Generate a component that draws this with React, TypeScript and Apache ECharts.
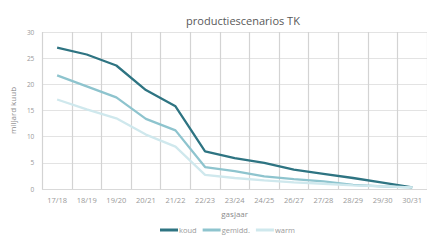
import React, { useEffect, useRef } from "react";
import * as echarts from "echarts";

const categories = ["17/18", "18/19", "19/20", "20/21", "21/22", "22/23", "23/24", "24/25", "26/27", "27/28", "28/29", "29/30", "30/31"];
const koud = [27.0, 25.7, 23.6, 18.9, 15.8, 7.2, 5.9, 5.0, 3.7, 2.9, 2.1, 1.2, 0.3];
const gemidd = [21.7, 19.6, 17.5, 13.4, 11.2, 4.2, 3.4, 2.4, 1.9, 1.45, 0.8, 0.5, 0.3];
const warm = [17.1, 15.2, 13.5, 10.4, 8.1, 2.7, 2.1, 1.65, 1.25, 1.0, 0.7, 0.5, 0.3];
const yTicks = { min: 0, max: 30, interval: 5 };

export default function App() {
  const ref = useRef<HTMLDivElement>(null);
  useEffect(() => {
    if (!ref.current) return;
    const chart = echarts.init(ref.current, null, { renderer: "svg" });
    const font = "'Open Sans', sans-serif";
    const mk = (name: string, data: number[], color: string) => ({
      name,
      type: "line",
      data,
      symbol: "none",
      smooth: false,
      z: 3,
      lineStyle: { color, width: 2.3 },
      itemStyle: { color },
    });
    chart.setOption({
      animation: false,
      backgroundColor: "#ffffff",
      title: {
        text: "productiescenarios TK",
        left: 238,
        top: 10,
        textAlign: "center",
        textStyle: { fontFamily: font, fontSize: 11, fontWeight: "normal", color: "#595959" },
      },
      grid: { left: 33, right: 0, top: 32, bottom: 51 },
      legend: {
        bottom: 1,
        left: 155,
        itemWidth: 18,
        itemHeight: 3,
        itemGap: 6,
        icon: "rect",
        textStyle: { fontFamily: font, fontSize: 7.5, color: "#9a9a9a", padding: [0, 0, 0, -4] },
        data: ["koud", "gemidd.", "warm"],
      },
      xAxis: {
        type: "category",
        data: categories,
        boundaryGap: true,
        name: "gasjaar",
        nameLocation: "middle",
        nameGap: 20,
        nameTextStyle: { fontFamily: font, fontSize: 8, color: "#8a8a8a" },
        axisLine: { show: true, lineStyle: { color: "#d9d9d9" } },
        axisTick: { show: false },
        axisLabel: { fontFamily: font, fontSize: 7.5, color: "#999999", margin: 7, interval: 0 },
        splitLine: { show: true, interval: 0, lineStyle: { color: "#d3d3d3", width: 1.2, opacity: 1 } },
      },
      yAxis: {
        type: "value",
        min: yTicks.min,
        max: yTicks.max,
        interval: yTicks.interval,
        name: "miljard kuub",
        nameLocation: "middle",
        nameGap: 22,
        nameTextStyle: { fontFamily: font, fontSize: 8, color: "#8a8a8a" },
        axisLine: { show: false },
        axisTick: { show: false },
        axisLabel: { fontFamily: font, fontSize: 6.5, color: "#999999", margin: 8 },
        splitLine: { show: true, lineStyle: { color: "#e3e3e3", width: 1 } },
      },
      series: [
        mk("koud", koud, "#2e7482"),
        mk("gemidd.", gemidd, "#8ec4ce"),
        mk("warm", warm, "#cfe8ed"),
      ],
    });
    return () => chart.dispose();
  }, []);
  return <div ref={ref} style={{ width: 427, height: 240, position: "absolute", left: 0, top: 0 }} />;
}
